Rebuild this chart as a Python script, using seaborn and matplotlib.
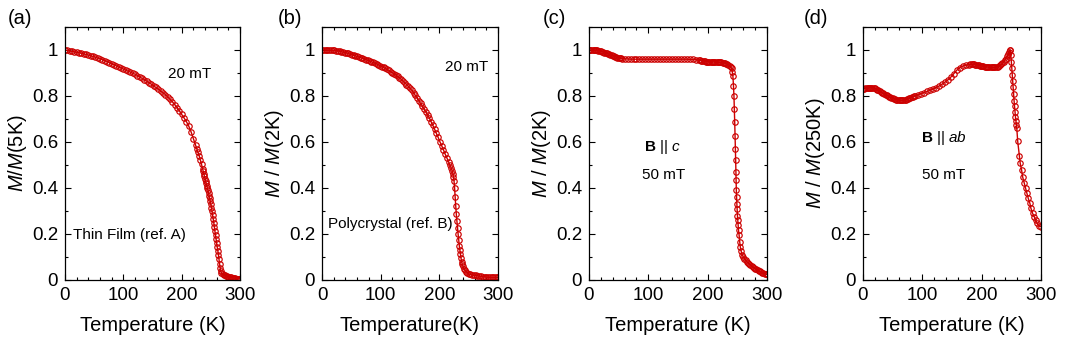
import numpy as np
import pandas as pd
import seaborn as sns
import matplotlib.pyplot as plt
from matplotlib.ticker import MultipleLocator, FixedLocator

# (a) thin film, 20 mT
temp_a = [0, 4, 8, 12, 16, 20, 24, 28, 32, 36, 40, 44, 48, 52, 56, 60, 64, 68, 72, 76,
          80, 84, 88, 92, 96, 100, 104, 108, 112, 116, 120, 124, 128, 132, 136, 140, 144,
          148, 152, 156, 160, 164, 168, 172, 176, 180, 184, 188, 192, 196, 200, 204, 208,
          212, 216, 220, 224, 226, 228, 230, 232, 234, 236, 237, 238, 239, 240, 241, 242,
          243, 244, 245, 246, 247, 248, 249, 250, 251, 252, 253, 254, 255, 256, 257, 258,
          259, 260, 261, 262, 263, 264, 265, 266, 267, 268, 270, 272, 274, 276, 278, 280,
          282, 284, 286, 288, 290, 292, 294, 296, 298, 300]
m_a = [1.000, 0.998, 0.996, 0.994, 0.992, 0.990, 0.988, 0.986, 0.983, 0.981, 0.978, 0.975,
       0.972, 0.969, 0.965, 0.962, 0.958, 0.954, 0.950, 0.945, 0.940, 0.936, 0.931, 0.926,
       0.922, 0.917, 0.913, 0.908, 0.904, 0.899, 0.895, 0.889, 0.883, 0.877, 0.871, 0.865,
       0.858, 0.851, 0.844, 0.837, 0.830, 0.822, 0.814, 0.806, 0.797, 0.786, 0.775, 0.763,
       0.750, 0.736, 0.720, 0.705, 0.689, 0.670, 0.645, 0.615, 0.585, 0.570, 0.555, 0.540,
       0.522, 0.503, 0.482, 0.472, 0.462, 0.451, 0.440, 0.430, 0.420, 0.410, 0.400, 0.390,
       0.379, 0.367, 0.355, 0.343, 0.330, 0.315, 0.299, 0.283, 0.266, 0.250, 0.231, 0.212,
       0.195, 0.178, 0.160, 0.143, 0.127, 0.110, 0.090, 0.070, 0.052, 0.038, 0.030, 0.025,
       0.022, 0.020, 0.018, 0.016, 0.015, 0.013, 0.012, 0.010, 0.009, 0.008, 0.007, 0.006,
       0.006, 0.005, 0.005]

# (b) polycrystal, 20 mT
temp_b = [0, 3, 6, 9, 12, 15, 18, 21, 24, 27, 30, 33, 36, 39, 42, 45, 48, 51, 54, 57, 60,
          63, 66, 69, 72, 75, 78, 81, 84, 87, 90, 93, 96, 99, 102, 105, 108, 111, 114, 117,
          120, 123, 126, 129, 132, 135, 138, 141, 144, 147, 150, 153, 156, 159, 162, 165,
          168, 171, 174, 177, 180, 183, 186, 189, 192, 195, 198, 201, 204, 207, 210, 213,
          216, 218, 220, 222, 223, 224, 225, 226, 227, 228, 229, 230, 231, 232, 233, 234,
          235, 236, 237, 238, 239, 240, 242, 244, 246, 248, 250, 253, 256, 259, 262, 265,
          268, 271, 274, 277, 280, 283, 286, 289, 292, 295, 298, 300]
m_b = [1.000, 1.000, 1.000, 0.999, 0.999, 0.999, 0.998, 0.998, 0.997, 0.996, 0.995, 0.993,
       0.991, 0.989, 0.987, 0.985, 0.982, 0.980, 0.977, 0.975, 0.972, 0.969, 0.967, 0.964,
       0.961, 0.958, 0.955, 0.952, 0.949, 0.946, 0.943, 0.940, 0.936, 0.932, 0.928, 0.924,
       0.920, 0.916, 0.911, 0.906, 0.901, 0.896, 0.891, 0.885, 0.879, 0.872, 0.865, 0.858,
       0.850, 0.842, 0.834, 0.825, 0.815, 0.803, 0.792, 0.780, 0.768, 0.756, 0.743, 0.731,
       0.718, 0.704, 0.688, 0.672, 0.655, 0.637, 0.620, 0.601, 0.584, 0.566, 0.547, 0.530,
       0.512, 0.500, 0.488, 0.474, 0.463, 0.450, 0.432, 0.400, 0.360, 0.320, 0.285, 0.255,
       0.228, 0.200, 0.175, 0.150, 0.130, 0.112, 0.095, 0.080, 0.068, 0.060, 0.050, 0.042,
       0.036, 0.030, 0.026, 0.024, 0.022, 0.021, 0.020, 0.019, 0.017, 0.016, 0.015, 0.014,
       0.013, 0.012, 0.012, 0.011, 0.011, 0.011, 0.011, 0.012]

# (c) single crystal, B || c, 50 mT
temp_c = [0, 2, 4, 6, 8, 10, 12, 14, 16, 18, 20, 22, 24, 26, 28, 30, 32, 34, 36, 38, 40,
          42, 44, 46, 48, 50, 52, 54, 56, 60, 65, 70, 75, 80, 85, 90, 95, 100, 105, 110,
          115, 120, 125, 130, 135, 140, 145, 150, 155, 160, 165, 170, 175, 180, 185, 187,
          189, 191, 193, 195, 197, 199, 201, 203, 205, 207, 209, 211, 213, 215, 217, 219,
          221, 223, 225, 227, 229, 231, 233, 235, 237, 239, 240.5, 241.5, 242.5, 243.5,
          244.3, 245, 245.6, 246.2, 246.8, 247.2, 247.6, 248, 248.3, 248.7, 249.2, 249.6,
          250.2, 250.8, 251.4, 252, 253, 254, 255, 256.5, 258, 260, 262, 264, 266, 268,
          270, 272, 274, 276, 278, 280, 282, 284, 286, 288, 290, 292, 294, 296, 298, 300]
m_c = [1.000, 1.000, 1.000, 1.000, 1.000, 0.999, 0.999, 0.998, 0.997, 0.996, 0.995, 0.993,
       0.991, 0.989, 0.987, 0.985, 0.983, 0.981, 0.979, 0.977, 0.975, 0.973, 0.971, 0.969,
       0.967, 0.966, 0.965, 0.964, 0.963, 0.962, 0.961, 0.960, 0.960, 0.960, 0.960, 0.960,
       0.960, 0.960, 0.960, 0.960, 0.960, 0.960, 0.960, 0.960, 0.960, 0.960, 0.960, 0.960,
       0.960, 0.960, 0.960, 0.959, 0.959, 0.958, 0.956, 0.955, 0.954, 0.953, 0.952, 0.951,
       0.950, 0.950, 0.949, 0.949, 0.948, 0.948, 0.948, 0.948, 0.948, 0.947, 0.947, 0.947,
       0.946, 0.946, 0.945, 0.944, 0.943, 0.941, 0.939, 0.936, 0.932, 0.927, 0.920, 0.905,
       0.887, 0.845, 0.800, 0.743, 0.685, 0.628, 0.570, 0.520, 0.469, 0.433, 0.390, 0.360,
       0.332, 0.310, 0.280, 0.260, 0.238, 0.216, 0.195, 0.166, 0.144, 0.125, 0.110, 0.100,
       0.092, 0.086, 0.080, 0.075, 0.070, 0.066, 0.062, 0.058, 0.054, 0.050, 0.046, 0.043,
       0.040, 0.037, 0.034, 0.032, 0.030, 0.028, 0.026, 0.024]

# (d) single crystal, B || ab, 50 mT
temp_d = [0, 2, 4, 6, 8, 10, 12, 14, 16, 18, 20, 22, 24, 26, 28, 30, 32, 34, 36, 38, 40,
          42, 44, 46, 48, 50, 52, 54, 56, 58, 60, 62, 64, 66, 68, 70, 72, 74, 76, 78, 80,
          82, 84, 86, 88, 93, 98, 103, 108, 113, 118, 123, 128, 133, 138, 143, 148, 153,
          158, 163, 168, 173, 178, 181, 183, 185, 187, 189, 191, 193, 195, 197, 199, 201,
          203, 205, 207, 209, 211, 213, 215, 217, 219, 221, 223, 225, 227, 229, 231, 233,
          235, 237, 239, 241, 243, 245, 246.5, 247.5, 248, 249, 250, 250.8, 251.6, 252.3,
          253, 253.8, 254.6, 255.4, 256.2, 257, 257.8, 258.5, 259.2, 260.7, 263.5, 265,
          267.3, 269, 271.8, 274, 276.3, 278.5, 281.3, 283, 285.8, 288.6, 290.9, 293.7,
          296.5, 299.3]
m_d = [0.832, 0.832, 0.833, 0.833, 0.834, 0.835, 0.836, 0.836, 0.836, 0.835, 0.833, 0.830,
       0.827, 0.824, 0.821, 0.818, 0.815, 0.812, 0.809, 0.806, 0.803, 0.800, 0.797, 0.794,
       0.792, 0.790, 0.788, 0.786, 0.784, 0.783, 0.782, 0.781, 0.781, 0.781, 0.782, 0.783,
       0.784, 0.786, 0.788, 0.790, 0.792, 0.794, 0.796, 0.798, 0.800, 0.805, 0.810, 0.815,
       0.820, 0.825, 0.830, 0.836, 0.843, 0.851, 0.860, 0.870, 0.882, 0.897, 0.912, 0.923,
       0.930, 0.934, 0.936, 0.937, 0.937, 0.937, 0.937, 0.936, 0.935, 0.934, 0.933, 0.932,
       0.931, 0.930, 0.929, 0.928, 0.927, 0.926, 0.925, 0.925, 0.924, 0.924, 0.924, 0.924,
       0.925, 0.926, 0.928, 0.930, 0.933, 0.937, 0.942, 0.948, 0.955, 0.963, 0.972, 0.982,
       0.990, 0.998, 1.000, 0.980, 0.950, 0.920, 0.891, 0.865, 0.840, 0.810, 0.780, 0.755,
       0.730, 0.708, 0.690, 0.675, 0.660, 0.604, 0.539, 0.507, 0.478, 0.449, 0.420, 0.399,
       0.377, 0.355, 0.333, 0.312, 0.290, 0.275, 0.261, 0.246, 0.235, 0.232]

panel_tags = ["(a)", "(b)", "(c)", "(d)"]
y_labels = [r"$M$/$M$(5K)", r"$M$ / $M$(2K)", r"$M$ / $M$(2K)", r"$M$ / $M$(250K)"]
x_labels = ["Temperature (K)", "Temperature(K)", "Temperature (K)", "Temperature (K)"]
notes = [
    [("20 mT", 214, 0.896), ("Thin Film (ref. A)", 111, 0.195)],
    [("20 mT", 247, 0.926), ("Polycrystal (ref. B)", 117, 0.242)],
    [(r"$\mathbf{B}$ || $c$", 124, 0.577), ("50 mT", 125, 0.455)],
    [(r"$\mathbf{B}$ || $ab$", 136, 0.617), ("50 mT", 136, 0.455)],
]

sns.set_theme(style="ticks")
plt.rcParams["font.family"] = ["Liberation Sans", "DejaVu Sans"]
plt.rcParams["mathtext.fontset"] = "custom"
plt.rcParams["mathtext.rm"] = "Liberation Sans"
plt.rcParams["mathtext.it"] = "Liberation Sans:italic"
plt.rcParams["mathtext.bf"] = "Liberation Sans:bold"
plt.rcParams["text.color"] = "black"
plt.rcParams["axes.labelcolor"] = "black"
plt.rcParams["xtick.color"] = "black"
plt.rcParams["ytick.color"] = "black"

red = "#cc0000"
fig = plt.figure(figsize=(10.8, 3.6), dpi=100)
lefts = [65, 322, 589, 863]
widths = [175, 176, 178, 178]
tag_x = [20, 290, 554, 816]

series = [(temp_a, m_a), (temp_b, m_b), (temp_c, m_c), (temp_d, m_d)]
for i, (t, m) in enumerate(series):
    ax = fig.add_axes([lefts[i] / 1080, 80 / 360, widths[i] / 1080, 253 / 360])
    df = pd.DataFrame({"T": t, "M": m})
    sns.lineplot(data=df, x="T", y="M", ax=ax, color=red, linewidth=1,
                 marker="o", markersize=3.9, markerfacecolor="none",
                 markeredgecolor=red, markeredgewidth=0.85)
    ax.set_xlim(0, 300)
    ax.set_ylim(0, 1.1)
    ax.xaxis.set_major_locator(MultipleLocator(100))
    ax.xaxis.set_minor_locator(MultipleLocator(20))
    ax.yaxis.set_major_locator(FixedLocator([0, 0.2, 0.4, 0.6, 0.8, 1.0]))
    ax.yaxis.set_minor_locator(MultipleLocator(0.1))
    ax.set_yticklabels(["0", "0.2", "0.4", "0.6", "0.8", "1"])
    ax.tick_params(which="both", direction="in", top=True, right=True,
                   color="black", labelcolor="black", width=0.8)
    ax.tick_params(which="major", length=4, pad=5, labelsize=13.5)
    ax.tick_params(which="minor", length=2.5)
    for s in ax.spines.values():
        s.set_linewidth(0.9)
        s.set_color("black")
    ax.set_xlabel(x_labels[i], fontsize=14.5, labelpad=9, color="black")
    ax.set_ylabel(y_labels[i], fontsize=14.5, labelpad=2, color="black")
    for txt, x, y in notes[i]:
        ax.text(x, y, txt, fontsize=11, ha="center", va="center", color="black")
    fig.text(tag_x[i] / 1080, 1 - 18 / 360, panel_tags[i], fontsize=14.5,
             ha="center", va="center", color="black")

fig.savefig("out.png", dpi=100)
